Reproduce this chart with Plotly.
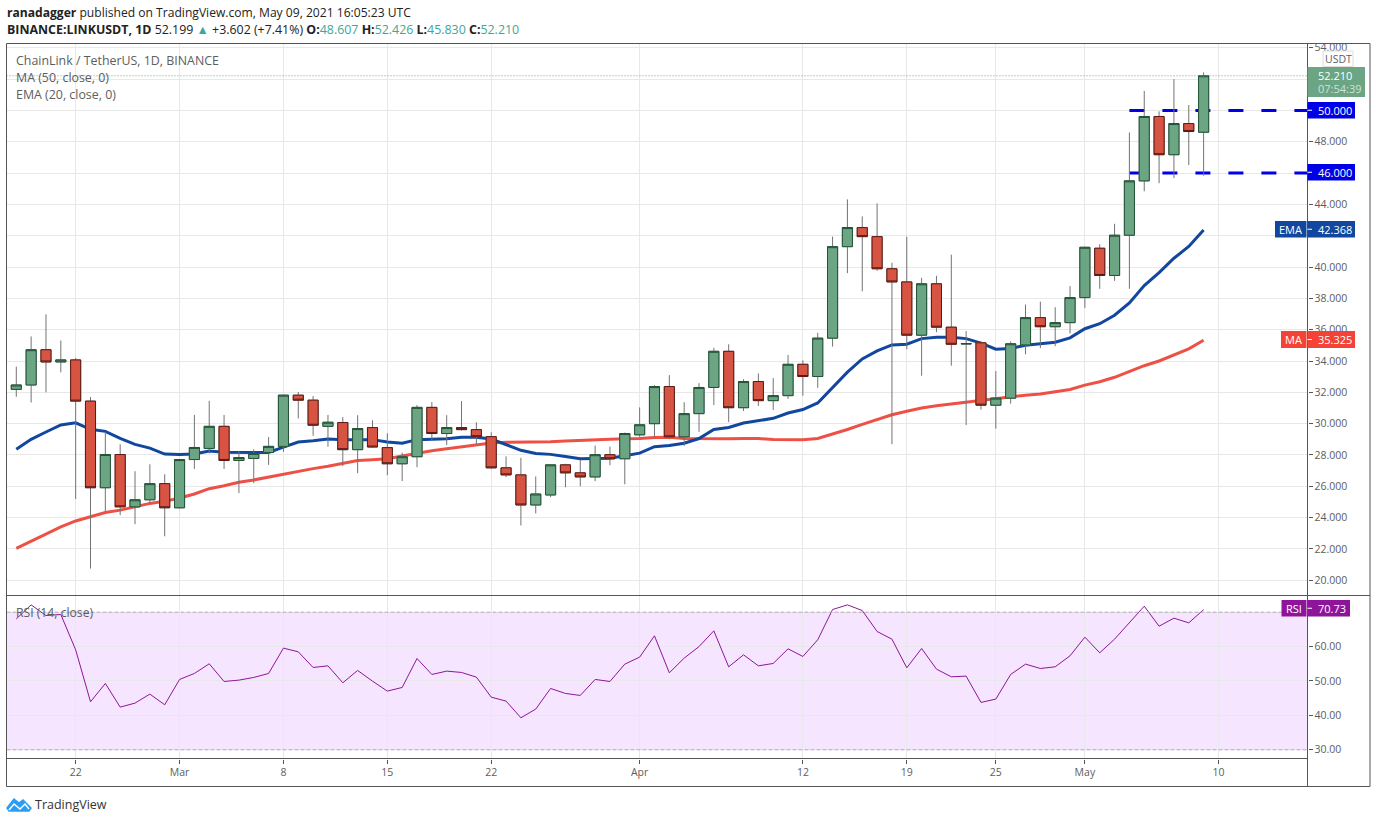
import pandas as pd
import plotly.graph_objs as go

W = 1376
H = 823

# daily candles, 18 Feb to 9 May 2021
dates = pd.date_range("2021-02-18", "2021-05-09")

opens = [32.19, 32.47, 34.72, 33.94, 34.07, 31.44, 25.91, 28.03, 24.69, 25.14, 26.17,
         24.63, 27.71, 28.42, 29.83, 27.65, 27.78, 28.16, 28.55, 31.82, 31.50, 29.83,
         30.07, 28.34, 29.75, 28.47, 27.44, 27.89, 31.04, 29.37, 29.75, 29.62, 29.17,
         27.18, 26.73, 24.81, 25.45, 27.37, 26.86, 26.60, 28.02, 27.76,
         29.29, 30.00, 32.37, 29.16, 30.64, 32.31, 34.62, 31.02, 32.69, 31.47, 31.79,
         33.79, 33.01, 35.46, 41.30, 42.52, 41.94, 39.89, 39.05, 35.65, 38.93, 36.16,
         35.09, 35.16, 31.18, 31.63, 35.03, 36.77, 36.19, 36.45,
         38.05, 41.20, 39.46, 42.03, 45.50, 49.61, 47.17, 49.16, 48.607]
closes = [32.47, 34.72, 33.94, 34.07, 31.44, 25.91, 28.03, 24.69, 25.14, 26.17, 24.63,
          27.71, 28.48, 29.83, 27.65, 27.84, 28.10, 28.55, 31.82, 31.50, 29.90, 30.09,
          28.34, 29.69, 28.51, 27.44, 27.89, 31.04, 29.37, 29.75, 29.62, 29.17, 27.18,
          26.73, 24.81, 25.51, 27.37, 26.86, 26.60, 28.02, 27.76, 29.37,
          29.93, 32.37, 29.16, 30.64, 32.31, 34.62, 31.02, 32.69, 31.47, 31.79, 33.79,
          33.01, 35.46, 41.30, 42.52, 41.94, 39.89, 39.05, 35.65, 38.93, 36.16, 35.07,
          35.11, 31.18, 31.63, 35.10, 36.77, 36.19, 36.45, 38.05,
          41.26, 39.46, 42.03, 45.50, 49.61, 47.17, 49.16, 48.65, 52.21]
highs = [33.64, 35.57, 36.98, 35.31, 34.20, 31.70, 29.47, 28.68, 26.96, 27.41, 26.77,
         27.75, 30.56, 31.46, 30.56, 28.25, 28.36, 29.15, 31.85, 32.02, 31.76, 30.56,
         30.42, 30.54, 30.22, 29.39, 28.15, 31.19, 31.38, 30.54, 31.44, 30.09, 29.45,
         27.91, 27.82, 26.63, 27.37, 27.44, 27.70, 28.60, 28.53, 29.43,
         31.04, 32.46, 33.10, 31.37, 32.59, 34.84, 35.07, 32.84, 33.21, 32.91, 34.39,
         34.04, 35.80, 41.94, 44.32, 43.23, 44.06, 40.27, 41.94, 39.31, 39.44, 40.79,
         35.91, 35.25, 33.36, 35.25, 37.60, 37.79, 37.43, 38.78,
         41.30, 41.46, 42.76, 48.59, 51.24, 49.94, 51.99, 50.34, 52.426]
lows = [31.72, 31.35, 32.00, 33.28, 25.19, 20.75, 24.39, 24.16, 23.58, 24.93, 22.81,
        24.57, 27.11, 28.10, 27.11, 25.57, 26.21, 27.37, 28.20, 30.33, 29.23, 28.53,
        27.29, 26.84, 28.45, 26.71, 26.33, 27.22, 28.92, 28.64, 29.56, 28.66, 27.12,
        26.58, 23.50, 24.27, 25.30, 25.94, 26.00, 26.33, 27.35, 26.13,
        29.16, 29.16, 29.01, 28.58, 29.48, 31.19, 30.10, 30.81, 31.13, 30.87, 31.58,
        31.79, 32.29, 34.92, 39.61, 38.45, 39.76, 28.69, 34.75, 33.06, 35.84, 33.70,
        29.91, 30.90, 29.68, 31.28, 34.43, 34.82, 34.95, 35.76,
        37.39, 38.61, 39.12, 38.61, 44.84, 45.35, 45.67, 46.51, 45.83]

ema_20 = [28.36, 29.00, 29.47, 29.92, 30.05, 29.64, 29.51, 29.06, 28.68, 28.44, 28.06,
          28.03, 28.06, 28.25, 28.18, 28.16, 28.16, 28.16, 28.50, 28.83, 28.91, 29.02,
          28.98, 28.98, 28.98, 28.83, 28.75, 28.98, 29.00, 29.04, 29.13, 29.13, 29.02,
          28.66, 28.30, 28.10, 28.04, 27.91, 27.76, 27.78, 27.80, 27.95,
          28.12, 28.53, 28.60, 28.75, 29.05, 29.63, 29.76, 30.04, 30.17, 30.34, 30.68,
          30.90, 31.32, 32.33, 33.29, 34.13, 34.64, 35.03, 35.07, 35.43, 35.52, 35.52,
          35.43, 35.14, 34.75, 34.80, 35.01, 35.10, 35.20, 35.48,
          36.06, 36.38, 36.92, 37.71, 38.82, 39.64, 40.56, 41.31, 42.368]
ma_50 = [22.04, 22.51, 22.94, 23.41, 23.79, 24.05, 24.33, 24.48, 24.69, 24.91, 25.04,
         25.25, 25.51, 25.85, 26.04, 26.26, 26.41, 26.60, 26.79, 26.96, 27.13, 27.28,
         27.46, 27.65, 27.70, 27.76, 27.93, 28.12, 28.27, 28.40, 28.53, 28.64, 28.77,
         28.81, 28.81, 28.83, 28.85, 28.90, 28.92, 28.98, 29.00, 29.04,
         29.05, 29.12, 29.14, 29.05, 29.03, 29.03, 29.03, 29.05, 29.05, 28.99, 28.97,
         28.97, 29.05, 29.33, 29.63, 29.95, 30.27, 30.57, 30.79, 31.00, 31.15, 31.26,
         31.39, 31.50, 31.63, 31.71, 31.82, 31.90, 32.03, 32.18,
         32.46, 32.68, 32.96, 33.32, 33.70, 34.00, 34.39, 34.78, 35.325]
rsi_14 = [68.06, 72.13, 69.03, 69.32, 59.06, 43.96, 49.28, 42.41, 43.57, 46.19, 43.09,
          50.45, 52.19, 55.00, 49.86, 50.25, 51.03, 52.19, 59.55, 58.48, 53.93, 54.41,
          49.48, 53.06, 49.96, 47.06, 48.12, 56.54, 51.90, 52.87, 52.48, 51.12, 45.31,
          44.15, 39.31, 41.83, 47.83, 46.38, 45.80, 50.45, 49.86, 54.90,
          56.93, 63.13, 52.38, 56.64, 60.00, 64.58, 54.12, 57.60, 54.41, 55.09, 59.35,
          57.13, 61.97, 70.77, 72.13, 70.48, 64.39, 62.16, 53.83, 59.45, 53.45, 51.22,
          51.41, 43.77, 44.74, 51.90, 54.90, 53.64, 54.12, 57.32,
          62.74, 58.19, 62.16, 67.10, 71.74, 65.93, 68.26, 66.90, 70.73]

date_ticks = ["2021-02-22", "2021-03-01", "2021-03-08", "2021-03-15", "2021-03-22", "2021-04-01",
              "2021-04-12", "2021-04-19", "2021-04-25", "2021-05-01", "2021-05-10"]
date_labels = ["22", "Mar", "8", "15", "22", "Apr", "12", "19", "25", "May", "10"]
price_ticks = [20, 22, 24, 26, 28, 30, 32, 34, 36, 38, 40, 42, 44, 46, 48, 50, 52, 54]
# the tags on the axis sit where 42, 46, 50, 52 and rsi 70 would be labelled
price_labels = ["20.000", "22.000", "24.000", "26.000", "28.000", "30.000", "32.000", "34.000", "36.000",
                "38.000", "40.000", "", "44.000", "", "48.000", "", "", "54.000"]
rsi_ticks = [30, 40, 50, 60, 70]
rsi_labels = ["30.00", "40.00", "50.00", "60.00", ""]
levels = [50, 46]
level_start = "2021-05-04"
last_price = 52.21

x_range = ["2021-02-17 08:10", "2021-05-16 00:00"]
price_range = [19.03, 54.27]
rsi_range = [27.47, 74.85]

FONT = "Open Sans"
GRID = "#e8e8e8"
FRAME = "#555555"
TEXT = "#5d5d5d"
TEAL = "#3aa89a"


def px(x):
    return x / W


def py(y):
    return 1 - y / H


shapes = []
annotations = []


def add_text(x, y, text, size=12, color=TEXT, anchor="left"):
    annotations.append(dict(x=px(x), y=py(y), xref="paper", yref="paper", text=text, showarrow=False,
                            xanchor=anchor, yanchor="middle", align="left", borderpad=0,
                            font=dict(family=FONT, size=size, color=color)))


def add_frame_line(x0, y0, x1, y1, color=FRAME, width=1):
    shapes.append(dict(type="line", xref="paper", yref="paper", x0=px(x0), y0=py(y0), x1=px(x1), y1=py(y1),
                       line=dict(color=color, width=width)))


def add_box(x0, x1, y0, y1, color):
    shapes.append(dict(type="rect", xref="paper", yref="paper", x0=px(x0), y0=py(y0), x1=px(x1), y1=py(y1),
                       fillcolor=color, line=dict(width=0)))


def add_tag(x1, y0, y1, color, name, value, name_x0=None):
    # value box on the axis, optional name box to its left
    add_box(1307.5, x1, y0, y1, color)
    add_frame_line(1307.5, (y0 + y1) / 2, 1312, (y0 + y1) / 2, color="#ffffff")
    add_text(1316.5, (y0 + y1) / 2, value, size=11, color="#ffffff")
    if name:
        add_box(name_x0, 1306.5, y0, y1, color)
        add_text((name_x0 + 1306.5) / 2, (y0 + y1) / 2, name, size=11, color="#ffffff", anchor="center")


traces = []

for level in levels:
    traces.append(go.Scatter(x=[level_start, x_range[1]], y=[level, level], mode="lines", hoverinfo="skip",
                             line=dict(color="#0000e6", width=3, dash="15px,18px")))
traces.append(go.Scatter(x=dates, y=ma_50, mode="lines", hoverinfo="skip", line=dict(color="#ef5045", width=3)))
traces.append(go.Scatter(x=dates, y=ema_20, mode="lines", hoverinfo="skip", line=dict(color="#11479e", width=3)))

# gray wicks first, then the bodies with their own darker border
traces.append(go.Candlestick(x=dates, open=opens, high=highs, low=lows, close=closes, yaxis="y3", hoverinfo="skip",
                             increasing=dict(line=dict(color="#737375", width=1), fillcolor="#6ba583"),
                             decreasing=dict(line=dict(color="#737375", width=1), fillcolor="#d75442")))
body_tops = [max(o, c) for o, c in zip(opens, closes)]
body_bottoms = [min(o, c) for o, c in zip(opens, closes)]
traces.append(go.Candlestick(x=dates, open=opens, high=body_tops, low=body_bottoms, close=closes, yaxis="y3", hoverinfo="skip",
                             increasing=dict(line=dict(color="#225437", width=1), fillcolor="#6ba583"),
                             decreasing=dict(line=dict(color="#5b1a13", width=1), fillcolor="#d75442")))

traces.append(go.Scatter(x=dates, y=rsi_14, xaxis="x2", yaxis="y2", mode="lines", hoverinfo="skip",
                         line=dict(color="#8e1599", width=1)))

# RSI band and its dashed limits
shapes.append(dict(type="rect", xref="x2 domain", yref="y2", x0=0, x1=1, y0=30, y1=70, layer="below",
                   fillcolor="rgba(155,0,245,0.1)", line=dict(width=0)))
for limit in [30, 70]:
    shapes.append(dict(type="line", xref="x2 domain", yref="y2", x0=0, x1=1, y0=limit, y1=limit,
                       line=dict(color="#b8a8bd", width=1, dash="4px,2px")))
shapes.append(dict(type="line", xref="x domain", yref="y", x0=0, x1=1, y0=last_price, y1=last_price,
                   line=dict(color="#6ba583", width=1, dash="1px,2px")))

# outer frame and pane separators
add_frame_line(6.5, 43.5, 1370, 43.5)
add_frame_line(6.5, 786.5, 1370, 786.5)
add_frame_line(6.5, 43.5, 6.5, 786.5)
add_frame_line(1370, 43.5, 1370, 786.5)
add_frame_line(1307.5, 43.5, 1307.5, 786.5)
add_frame_line(6.5, 595.5, 1370, 595.5)
add_frame_line(6.5, 758.5, 1307.5, 758.5)

# header
add_text(6, 12, "<b>ranadagger</b> published on TradingView.com, May 09, 2021 16:05:23 UTC", size=12.1, color="#222222")
add_text(6, 29.5, "<b>BINANCE:LINKUSDT, 1D</b> 52.199 <span style='color:%s'>▲</span> +3.602 (+7.41%%) "
                  "<b>O:</b><span style='color:%s'>48.607</span> <b>H:</b><span style='color:%s'>52.426</span> "
                  "<b>L:</b><span style='color:%s'>45.830</span> <b>C:</b><span style='color:%s'>52.210</span>"
         % (TEAL, TEAL, TEAL, TEAL, TEAL), size=12.4, color="#222222")

# pane legends
add_text(15, 60.5, "ChainLink / TetherUS, 1D, BINANCE", size=12.4)
add_text(15, 77.5, "MA (50, close, 0)", size=12.4)
add_text(15, 94.5, "EMA (20, close, 0)", size=12.4)
add_text(15, 612.5, "RSI (14, close)", size=12.2)

# right axis tags
shapes.append(dict(type="rect", xref="paper", yref="paper", x0=px(1323), y0=py(51), x1=px(1353), y1=py(66.5),
                   fillcolor="#ffffff", line=dict(color="#dddddd", width=1)))
add_text(1338, 59, "USDT", size=10.5, anchor="center")
add_box(1307.5, 1365, 67, 97, "#6ba583")
add_text(1316.5, 75.5, "52.210", size=11, color="#ffffff")
add_text(1316.5, 88.5, "07:54:39", size=11, color="#cfe3d8")
add_tag(1355, 102, 118.5, "#0000e6", None, "50.000")
add_tag(1355, 164, 180.5, "#0000e6", None, "46.000")
add_tag(1355, 221, 237.5, "#11479e", "EMA", "42.368", name_x0=1275)
add_tag(1355, 331, 348, "#f44336", "MA", "35.325", name_x0=1281)
add_tag(1350, 600, 616.5, "#8e1599", "RSI", "70.73", name_x0=1281.5)

# TradingView logo
shapes.append(dict(type="path", xref="paper", yref="paper", fillcolor="#2a9df4",
                   path="M %f %f L %f %f L %f %f L %f %f L %f %f L %f %f L %f %f Z"
                        % (px(7), py(808), px(14), py(799), px(19), py(803), px(23), py(800),
                           px(31), py(808), px(29), py(811), px(9), py(811)),
                   line=dict(color="#2a9df4", width=1.5)))
shapes.append(dict(type="path", xref="paper", yref="paper",
                   path="M %f %f L %f %f L %f %f L %f %f L %f %f"
                        % (px(9), py(810), px(14), py(804), px(20), py(809), px(25), py(804), px(29), py(809)),
                   line=dict(color="#ffffff", width=1.5)))
add_text(34, 804.5, "TradingView", size=12.5, color="#333333")

axis_font = dict(family=FONT, size=10.5, color=TEXT)
layout = go.Layout(
    width=W, height=H, margin=dict(l=0, r=0, t=0, b=0, autoexpand=False), autosize=False,
    paper_bgcolor="#ffffff", plot_bgcolor="#ffffff", showlegend=False, font=dict(family=FONT),
    shapes=shapes, annotations=annotations, boxgap=0.2, boxgroupgap=0.15,
    xaxis=dict(domain=[px(6.5), px(1307.5)], anchor="y", range=x_range, tickvals=date_ticks, showticklabels=False,
               gridcolor=GRID, gridwidth=1, zeroline=False, rangeslider=dict(visible=False), ticks=""),
    xaxis2=dict(domain=[px(6.5), px(1307.5)], anchor="y2", range=x_range, tickvals=date_ticks, ticktext=date_labels,
                gridcolor=GRID, gridwidth=1, zeroline=False, ticks="outside", ticklen=4, tickcolor=FRAME, tickfont=axis_font),
    yaxis=dict(domain=[py(595.5), py(43.5)], anchor="x", side="right", range=price_range, tickvals=price_ticks,
               ticktext=price_labels, gridcolor=GRID, gridwidth=1, zeroline=False, ticks="outside", ticklen=4,
               tickcolor=FRAME, tickfont=axis_font),
    yaxis2=dict(domain=[py(758.5), py(595.5)], anchor="x2", side="right", range=rsi_range, tickvals=rsi_ticks,
                ticktext=rsi_labels, gridcolor=GRID, gridwidth=1, zeroline=False, ticks="outside", ticklen=4,
                tickcolor=FRAME, tickfont=axis_font),
    yaxis3=dict(domain=[py(595.5), py(43.5)], anchor="x", overlaying="y", side="right", range=price_range,
                showgrid=False, zeroline=False, showticklabels=False, ticks=""),
)

fig = go.Figure(data=traces, layout=layout)
fig.write_html("out.html", config=dict(displayModeBar=False),
               post_script="document.body.style.margin='0';document.documentElement.style.overflow='hidden';")
